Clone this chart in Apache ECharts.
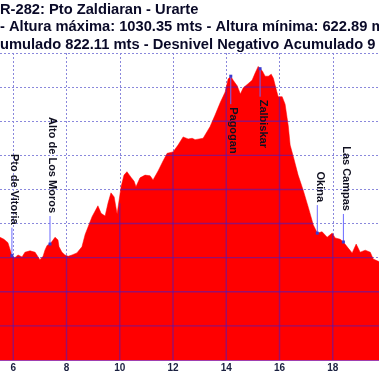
<!DOCTYPE html>
<html>
<head>
<meta charset="utf-8">
<script src="https://cdn.jsdelivr.net/npm/echarts@6/dist/echarts.min.js"></script>
<style>
html,body{margin:0;padding:0;background:#fff;overflow:hidden;width:379px;height:379px;}
#c{position:absolute;left:-40px;top:0;width:426px;height:379px;}
</style>
</head>
<body>
<div id="c"></div>
<script>
// Profile: distance (km) and altitude (m)
const distKm = [5.50,5.65,5.80,5.88,5.95,6.06,6.18,6.33,6.44,6.63,6.82,6.89,7.00,7.12,7.19,7.27,7.38,7.48,7.57,7.68,7.72,7.83,7.94,8.06,8.21,8.39,8.58,8.70,8.81,8.96,9.07,9.18,9.30,9.45,9.56,9.67,9.79,9.90,9.97,10.05,10.16,10.27,10.42,10.54,10.61,10.76,10.95,11.14,11.25,11.44,11.63,11.78,12.00,12.19,12.38,12.57,12.72,12.83,13.13,13.39,13.58,13.77,13.96,14.07,14.17,14.26,14.41,14.53,14.64,14.82,14.97,15.09,15.20,15.27,15.35,15.46,15.58,15.69,15.77,15.88,15.95,16.10,16.21,16.33,16.40,16.52,16.70,16.89,17.08,17.27,17.42,17.60,17.79,17.98,18.09,18.28,18.40,18.58,18.73,18.88,19.03,19.22,19.41,19.52,19.75];
const altM = [780,777,772,762,753,750,754,751,758,760,758,757,747,752,761,768,770,775,780,776,766,758,754,752,754,757,766,784,795,810,818,826,815,811,830,845,839,814,815,854,871,876,868,862,854,867,871,870,864,877,892,903,905,915,927,924,925,923,925,942,959,977,993,1012,1016,1010,1002,990,999,1005,1010,1021,1030.35,1027,1024,1016,1016,1019,1013,996,986,986,975,943,915,898,871,849,824,798,786,788,780,786,779,777,773,764,757,770,758,761,758,748,744];

// Named points
const peakNames = ['Pto de Vitoria','Alto de Los Moros','Pagogan','Zalbiskar','Okina','Las Campas'];
const peakKm = [5.95,7.38,14.17,15.27,17.42,18.40];
const peakAlt = [753,770,1016,1027,786,773];

// Axis ticks
const xTicks = [4,6,8,10,12,14,16,18,20];
const yTicks = [600,650,700,750,800,850,900,950,1000,1050];

// Title lines (visible part)
const titleLines = [
  'R-282: Pto Zaldiaran - Urarte',
  '- Altura máxima: 1030.35 mts - Altura mínima: 622.89 mts',
  'umulado 822.11 mts - Desnivel Negativo Acumulado 9'
];

// layout: label side (-1 above marker, 1 below)
const labelSide = [-1,-1,1,1,-1,-1];

const chart = echarts.init(document.getElementById('c'), null, {renderer:'canvas'});
const FONT = '"Liberation Sans", Arial, sans-serif';
const gridColor = '#8a88dc';
const inGridColor = 'rgba(50,30,220,0.5)';
const PAGE_OFFSET = 40;
const xMin = xTicks[0], xMax = xTicks[xTicks.length-1];
const yMin = yTicks[0], yMax = yTicks[yTicks.length-1];

function altAt(km){
  for(let i=0;i<distKm.length-1;i++){
    if(km>=distKm[i] && km<=distKm[i+1]){
      const t=(km-distKm[i])/(distKm[i+1]-distKm[i]);
      return altM[i]+t*(altM[i+1]-altM[i]);
    }
  }
  return null;
}

const option = {
  animation:false,
  backgroundColor:'#ffffff',
  graphic: titleLines.map((t,i)=>({
    type:'text', left:PAGE_OFFSET, top: 2.5 + i*17.3, z:10,
    style:{text:t, font:'bold 14.7px '+FONT, fill:'#0a0a28'}
  })),
  grid:{left:0, right:0, top:53, bottom:19, containLabel:false},
  xAxis:[{
    type:'value', min:xMin, max:xMax, interval:2, z:6,
    axisLine:{show:true, lineStyle:{color:'#a040b0', width:1.2}},
    axisTick:{show:false},
    axisLabel:{show:true, margin:3, color:'#1a2040', fontSize:10, fontWeight:'bold', fontFamily:FONT, showMinLabel:false, showMaxLabel:false},
    splitLine:{show:false}
  },{
    type:'value', min:xMin, max:xMax, interval:2, z:0, position:'bottom',
    axisLine:{show:false}, axisTick:{show:false}, axisLabel:{show:false},
    splitLine:{show:true, lineStyle:{color:gridColor, width:1, type:[2,2]}}
  }],
  yAxis:{
    type:'value', min:yMin, max:yMax, interval:50, z:0,
    axisLine:{show:false}, axisTick:{show:false}, axisLabel:{show:false},
    splitLine:{show:true, lineStyle:{color:gridColor, width:1, type:[2,2]}}
  },
  series:[
    {
      type:'line', data: distKm.map((d,i)=>[d, altM[i]]),
      symbol:'none', z:2,
      lineStyle:{color:'#ff0000', width:0.5},
      areaStyle:{color:'#ff0000', opacity:1, origin:'start'}
    },
    {
      // grid lines visible inside the filled profile
      type:'custom', z:3, clip:true,
      data:[[distKm[0], yMin]],
      encode:{x:0, y:1},
      renderItem:function(params, api){
        const ch=[];
        const st={stroke:inGridColor, lineWidth:1.4};
        xTicks.forEach(k=>{
          const a=altAt(k);
          if(a===null) return;
          const p0=api.coord([k,yMin]), p1=api.coord([k,a]);
          ch.push({type:'line', shape:{x1:p0[0],y1:p0[1],x2:p1[0],y2:p1[1]}, style:st});
        });
        yTicks.slice(1).forEach(L=>{
          let start=null;
          for(let i=0;i<distKm.length-1;i++){
            const a0=altM[i], a1=altM[i+1], d0=distKm[i], d1=distKm[i+1];
            if(a0>=L && start===null) start=d0;
            if((a0>=L)!==(a1>=L)){
              const dc=d0+(L-a0)/(a1-a0)*(d1-d0);
              if(a1>=L){ start=dc; }
              else { const p0=api.coord([start,L]), p1=api.coord([dc,L]);
                ch.push({type:'line', shape:{x1:p0[0],y1:p0[1],x2:p1[0],y2:p1[1]}, style:st}); start=null; }
            }
          }
          if(start!==null){ const p0=api.coord([start,L]), p1=api.coord([distKm[distKm.length-1],L]);
            ch.push({type:'line', shape:{x1:p0[0],y1:p0[1],x2:p1[0],y2:p1[1]}, style:st}); }
        });
        return {type:'group', children:ch};
      }
    },
    {
      type:'custom', z:5, clip:false,
      data: peakKm.map((d,i)=>[d, peakAlt[i]]),
      encode:{x:0, y:1},
      renderItem:function(params, api){
        const p = api.coord([api.value(0), api.value(1)]);
        const i = params.dataIndex;
        const s = labelSide[i];
        const gap = 31;
        return {type:'group', children:[
          {type:'line', shape:{x1:p[0], y1:p[1], x2:p[0], y2:p[1]+s*(gap-3)}, style:{stroke:'#6a6aff', lineWidth:1}},
          {type:'rect', shape:{x:p[0]-1.5, y:p[1]-1.5, width:3, height:3}, style:{fill:'#3a3ad0'}},
          {type:'text', x:p[0]+2.5, y:p[1]+s*gap, rotation:-Math.PI/2,
            style:{text:peakNames[i], font:'bold 11px '+FONT, fill:'#101020',
              align: s<0 ? 'right' : 'left', verticalAlign:'middle'}}
        ]};
      }
    }
  ]
};
chart.setOption(option);
</script>
</body>
</html>
